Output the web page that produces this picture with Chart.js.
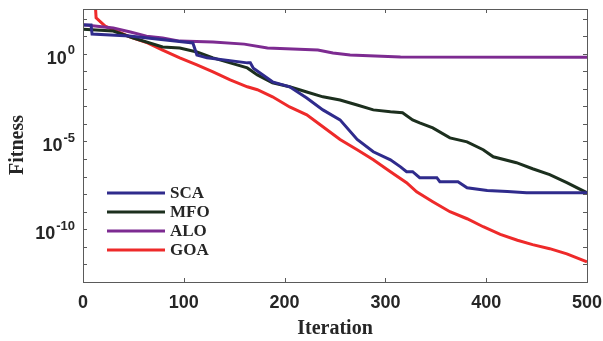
<!DOCTYPE html>
<html>
<head>
<meta charset="utf-8">
<script src="https://cdn.jsdelivr.net/npm/chart.js@4"></script>
<style>
  html, body { margin: 0; padding: 0; background: #fff; }
  #wrap { width: 603px; height: 341px; }
</style>
</head>
<body>
<div id="wrap"><canvas id="MiGrafica" width="603" height="341"></canvas></div>
<script>
// curvas de convergencia (mejor fitness por iteracion)
const scaIter = [0, 8, 9, 46, 109, 113, 123, 163, 166, 169, 188, 205, 222, 238, 255, 272, 288, 305, 315, 321, 327, 334, 351, 354, 372, 381, 401, 421, 440, 500];
const scaFit = [4.3e1, 4.3e1, 1.3e1, 1.0e1, 4.1e0, 8.5e-1, 5.8e-1, 3.0e-1, 3.0e-1, 1.5e-1, 2.5e-2, 1.3e-2, 3.0e-3, 6.3e-4, 1.7e-4, 1.3e-5, 2.6e-6, 9.1e-7, 3.6e-7, 1.9e-7, 1.9e-7, 8.7e-8, 8.7e-8, 5.1e-8, 5.1e-8, 2.3e-8, 1.6e-8, 1.4e-8, 1.2e-8, 1.2e-8];

const mfoIter = [0, 30, 50, 79, 96, 113, 129, 146, 163, 173, 188, 205, 222, 238, 255, 272, 288, 305, 317, 327, 334, 347, 364, 381, 397, 407, 430, 446, 463, 480, 500];
const mfoFit = [2.5e1, 1.95e1, 7.8e0, 2.4e0, 2.1e0, 1.26e0, 5.8e-1, 3.0e-1, 1.55e-1, 6.2e-2, 2.2e-2, 1.3e-2, 6.6e-3, 3.5e-3, 2.3e-3, 1.2e-3, 6.3e-4, 4.9e-4, 4.3e-4, 1.7e-4, 1.15e-4, 5.9e-5, 1.6e-5, 9.5e-6, 3.4e-6, 1.35e-6, 6.2e-7, 2.8e-7, 1.3e-7, 4.5e-8, 1.2e-8];

const aloIter = [0, 30, 47, 63, 79, 96, 129, 160, 183, 233, 248, 265, 315, 500];
const aloFit = [4.5e1, 2.9e1, 1.7e1, 1.0e1, 7.8e0, 5.2e0, 4.6e0, 3.5e0, 2.1e0, 1.6e0, 1.1e0, 8.5e-1, 6.5e-1, 6.3e-1];

const goaIter = [0, 12, 13, 22, 47, 64, 79, 96, 113, 129, 146, 163, 173, 188, 205, 222, 238, 255, 272, 288, 305, 321, 331, 347, 364, 381, 397, 414, 431, 446, 463, 480, 500];
const goaFit = [1e6, 1e3, 1.1e2, 3.7e1, 8.9e0, 4.1e0, 1.6e0, 5.8e-1, 2.3e-1, 9.1e-2, 3.2e-2, 1.3e-2, 8.9e-3, 3.5e-3, 9.3e-4, 3.3e-4, 6.9e-5, 1.3e-5, 3.4e-6, 9.1e-7, 1.9e-7, 4.5e-8, 1.35e-8, 3.7e-9, 1.0e-9, 4.0e-10, 1.4e-10, 5.2e-11, 2.4e-11, 1.35e-11, 7.9e-12, 4.0e-12, 1.4e-12];

const nombres = ['SCA', 'MFO', 'ALO', 'GOA'];
const colores = ['#2f2b8c', '#1c2f1e', '#7d2b91', '#ee2a2a'];

const xTicks = [0, 100, 200, 300, 400, 500];
const yTicks = [1e2, 1e1, 1e0, 1e-1, 1e-2, 1e-3, 1e-4, 1e-5, 1e-6, 1e-7, 1e-8, 1e-9, 1e-10, 1e-11, 1e-12];
const yLabelVals = [1e0, 1e-5, 1e-10];
const yLabelExp = ['0', '-5', '-10'];

const puntos = (iters, fits) => iters.map((it, i) => ({ x: it, y: fits[i] }));

const series = [
    puntos(scaIter, scaFit),
    puntos(mfoIter, mfoFit),
    puntos(aloIter, aloFit),
    puntos(goaIter, goaFit)
];

// ejes tipo matlab: caja, marcas hacia dentro, etiquetas y leyenda
const ejes = {
    id: 'ejes',
    afterDatasetsDraw(chart) {
        const ctx = chart.ctx;
        const a = chart.chartArea;
        const sx = chart.scales.x;
        const sy = chart.scales.y;
        ctx.save();

        ctx.strokeStyle = '#5a5a5a';
        ctx.lineWidth = 1;
        ctx.strokeRect(a.left + 0.5, a.top + 0.5, a.right - a.left, a.bottom - a.top);

        ctx.beginPath();
        xTicks.forEach(v => {
            const px = Math.round(sx.getPixelForValue(v)) + 0.5;
            ctx.moveTo(px, a.bottom); ctx.lineTo(px, a.bottom - 4);
            ctx.moveTo(px, a.top); ctx.lineTo(px, a.top + 4);
        });
        yTicks.forEach(v => {
            const py = Math.round(sy.getPixelForValue(v)) + 0.5;
            ctx.moveTo(a.left, py); ctx.lineTo(a.left + 4, py);
            ctx.moveTo(a.right, py); ctx.lineTo(a.right - 4, py);
        });
        ctx.stroke();

        ctx.fillStyle = '#262626';
        ctx.font = 'bold 18px "Liberation Sans", Arial, sans-serif';
        ctx.textAlign = 'center';
        ctx.textBaseline = 'middle';
        xTicks.forEach(v => {
            ctx.fillText(String(v), sx.getPixelForValue(v), 303);
        });

        // 10 con exponente
        yLabelVals.forEach((v, i) => {
            const py = sy.getPixelForValue(v);
            ctx.font = 'bold 13px "Liberation Sans", Arial, sans-serif';
            const wExp = ctx.measureText(yLabelExp[i]).width;
            ctx.font = 'bold 18px "Liberation Sans", Arial, sans-serif';
            const wBase = ctx.measureText('10').width;
            const right = 75;
            ctx.textAlign = 'left';
            ctx.fillText('10', right - wExp - wBase - 1, py + 5);
            ctx.font = 'bold 13px "Liberation Sans", Arial, sans-serif';
            ctx.fillText(yLabelExp[i], right - wExp, py - 3);
        });

        ctx.font = 'bold 20px "Liberation Serif", "Times New Roman", serif';
        ctx.textAlign = 'center';
        ctx.fillText('Iteration', (a.left + a.right) / 2, 329);
        ctx.save();
        ctx.translate(18, 145);
        ctx.rotate(-Math.PI / 2);
        ctx.fillText('Fitness', 0, 0);
        ctx.restore();

        ctx.font = 'bold 17px "Liberation Serif", "Times New Roman", serif';
        ctx.textAlign = 'left';
        nombres.forEach((n, i) => {
            const y = 193 + i * 19;
            ctx.strokeStyle = colores[i];
            ctx.lineWidth = 3;
            ctx.beginPath();
            ctx.moveTo(107, y); ctx.lineTo(165, y);
            ctx.stroke();
            ctx.fillStyle = '#262626';
            ctx.fillText(n, 170, y + 1);
        });

        ctx.restore();
    }
};

var ctx = document.getElementById('MiGrafica').getContext('2d');
var myChart = new Chart(ctx, {
    type: 'line',
    data: {
        datasets: series.map((d, i) => ({
            label: nombres[i],
            data: d,
            borderColor: colores[i],
            backgroundColor: colores[i],
            borderWidth: 3,
            pointRadius: 0,
            tension: 0,
            fill: false
        }))
    },
    options: {
        responsive: false,
        animation: false,
        layout: { padding: { left: 83, top: 9, right: 16, bottom: 59 } },
        plugins: {
            legend: { display: false },
            tooltip: { enabled: false }
        },
        scales: {
            x: { type: 'linear', min: 0, max: 500, display: false },
            y: { type: 'logarithmic', min: 1e-13, max: 350, display: false }
        }
    },
    plugins: [ejes]
});
</script>
</body>
</html>
